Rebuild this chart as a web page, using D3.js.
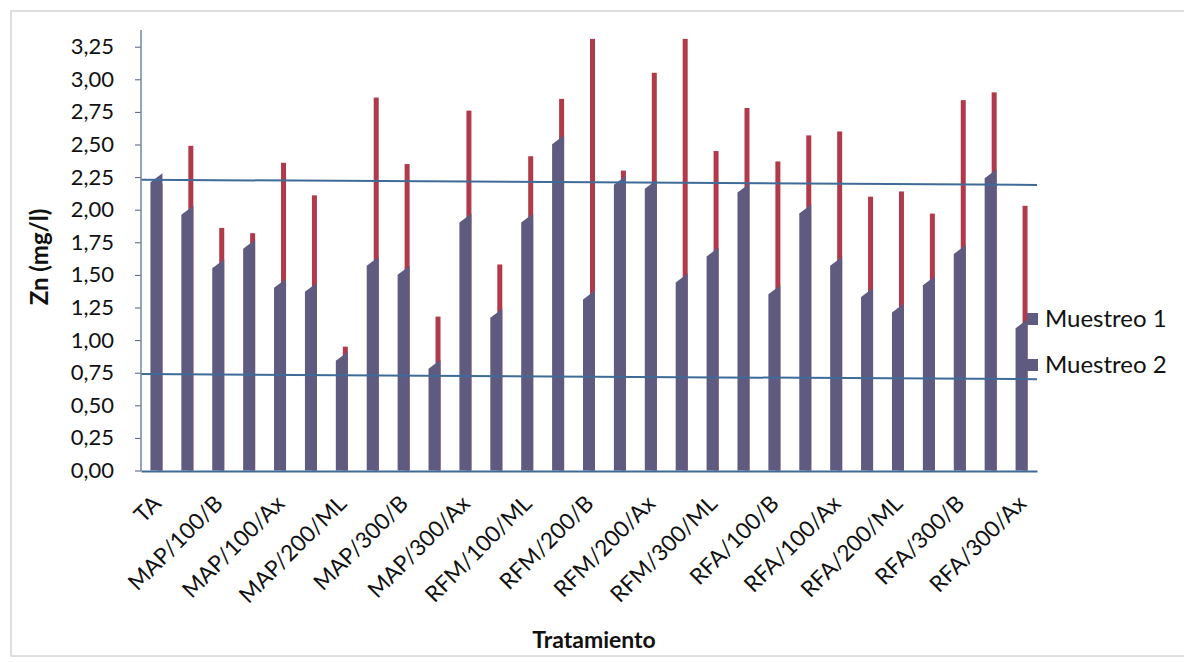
<!DOCTYPE html>
<html>
<head>
<meta charset="utf-8">
<script src="https://cdn.jsdelivr.net/npm/d3@7"></script>
<style>
  html, body { margin: 0; padding: 0; background: #ffffff; }
  svg { display: block; }
  text { font-family: Lato, "Open Sans", "Liberation Sans", sans-serif; fill: #111; }
</style>
</head>
<body>
<svg id="chart" width="1184" height="662"></svg>
<script>
// ---- data ----
const categories = [
  "TA", "TR",
  "MAP/100/B", "MAP/100/ML", "MAP/100/Ax",
  "MAP/200/B", "MAP/200/ML", "MAP/200/Ax",
  "MAP/300/B", "MAP/300/ML", "MAP/300/Ax",
  "RFM/100/B", "RFM/100/ML", "RFM/100/Ax",
  "RFM/200/B", "RFM/200/ML", "RFM/200/Ax",
  "RFM/300/B", "RFM/300/ML", "RFM/300/Ax",
  "RFA/100/B", "RFA/100/ML", "RFA/100/Ax",
  "RFA/200/B", "RFA/200/ML", "RFA/200/Ax",
  "RFA/300/B", "RFA/300/ML", "RFA/300/Ax"
];
const muestreo1 = [
  2.28, 2.03, 1.62, 1.77, 1.47, 1.44, 0.91, 1.64, 1.57, 0.85,
  1.97, 1.24, 1.97, 2.57, 1.38, 2.26, 2.23, 1.51, 1.71, 2.20,
  1.42, 2.04, 1.64, 1.40, 1.28, 1.49, 1.73, 2.31, 1.16
];
const muestreo2 = [
  2.20, 2.49, 1.86, 1.82, 2.36, 2.11, 0.95, 2.86, 2.35, 1.18,
  2.76, 1.58, 2.41, 2.85, 3.31, 2.30, 3.05, 3.31, 2.45, 2.78,
  2.37, 2.57, 2.60, 2.10, 2.14, 1.97, 2.84, 2.90, 2.03
];
const yTicks = [0, 0.25, 0.5, 0.75, 1, 1.25, 1.5, 1.75, 2, 2.25, 2.5, 2.75, 3, 3.25];
const refLineUpper = [2.23, 2.19];   // value at left end, value at right end
const refLineLower = [0.74, 0.70];
const seriesNames = ["Muestreo 1", "Muestreo 2"];
const yTitle = "Zn (mg/l)";
const xTitle = "Tratamiento";

// ---- layout ----
const svg = d3.select("#chart");
const colM1 = "#5f5b80";
const colM2 = "#b03a4a";
const colAxis = "#3f6b98";

svg.append("rect")
  .attr("x", 11).attr("y", 11).attr("width", 1200).attr("height", 645)
  .attr("fill", "none").attr("stroke", "#d4d4d4").attr("stroke-width", 1.5);

const x = d3.scaleBand().domain(categories).range([141, 1037]).paddingInner(0).paddingOuter(0);
const y = d3.scaleLinear().domain([0, 3.25]).range([470.5, 46.7]);
const bw = x.bandwidth();
const cx = c => x(c) + bw / 2;

// Muestreo 2 (thin, behind)
svg.append("g").selectAll("rect")
  .data(categories.map((c, i) => ({ c, v: muestreo2[i] })))
  .join("rect")
  .attr("x", d => cx(d.c) + 1)
  .attr("width", 5)
  .attr("y", d => y(d.v))
  .attr("height", d => y(0) - y(d.v))
  .attr("fill", colM2);

// Muestreo 1 (wider, front, bevelled top)
svg.append("g").selectAll("path")
  .data(categories.map((c, i) => ({ c, v: muestreo1[i] })))
  .join("path")
  .attr("d", d => {
    const l = cx(d.c) - 6, r = cx(d.c) + 6;
    const top = y(d.v), base = y(0);
    const slant = Math.min(9, (base - top) * 0.5);
    return `M${l},${base} L${l},${top + slant} L${r},${top} L${r},${base} Z`;
  })
  .attr("fill", colM1);

// reference lines
[refLineUpper, refLineLower].forEach(rl => {
  svg.append("line")
    .attr("x1", 141).attr("x2", 1037)
    .attr("y1", y(rl[0])).attr("y2", y(rl[1]))
    .attr("stroke", colAxis).attr("stroke-width", 2);
});

// y axis
const yAxis = d3.axisLeft(y).tickValues(yTicks)
  .tickFormat(d => d3.format(".2f")(d).replace(".", ","))
  .tickSize(6).tickPadding(21);
const gy = svg.append("g").attr("transform", "translate(141,0)").call(yAxis);
gy.select(".domain").remove();
gy.selectAll(".tick line").attr("stroke", "#555a80").attr("stroke-width", 1);
gy.selectAll(".tick text").attr("font-size", 22).attr("fill", "#111").style("font-family", "Lato, sans-serif");
svg.append("line").attr("x1", 141).attr("x2", 141).attr("y1", 30).attr("y2", 471)
  .attr("stroke", "#6f87a8").attr("stroke-width", 1.5);

// x axis
const xAxis = d3.axisBottom(x)
  .tickValues(categories.filter((c, i) => i % 2 === 0))
  .tickSize(0).tickPadding(0);
const gx = svg.append("g").attr("transform", "translate(0,471)").call(xAxis);
gx.select(".domain").attr("stroke", colAxis).attr("stroke-width", 2);
gx.selectAll(".tick text")
  .attr("font-size", 22.5)
  .attr("fill", "#111")
  .style("font-family", "Lato, sans-serif")
  .attr("text-anchor", "end")
  .attr("dy", 0)
  .attr("transform", "translate(6,34) rotate(-45)");

// titles
svg.append("text")
  .attr("transform", "translate(48,257) rotate(-90)")
  .attr("text-anchor", "middle")
  .attr("font-size", 24).attr("font-weight", "bold")
  .text(yTitle);
svg.append("text")
  .attr("x", 594).attr("y", 648)
  .attr("text-anchor", "middle")
  .attr("font-size", 23).attr("font-weight", "bold")
  .text(xTitle);

// legend
const lg = svg.append("g");
seriesNames.forEach((n, i) => {
  const yy = 319 + i * 46;
  lg.append("rect").attr("x", 1027).attr("y", yy - 6).attr("width", 11).attr("height", 12).attr("fill", colM1);
  lg.append("text").attr("x", 1045).attr("y", yy + 8).attr("font-size", 24).text(n);
});
</script>
</body>
</html>
